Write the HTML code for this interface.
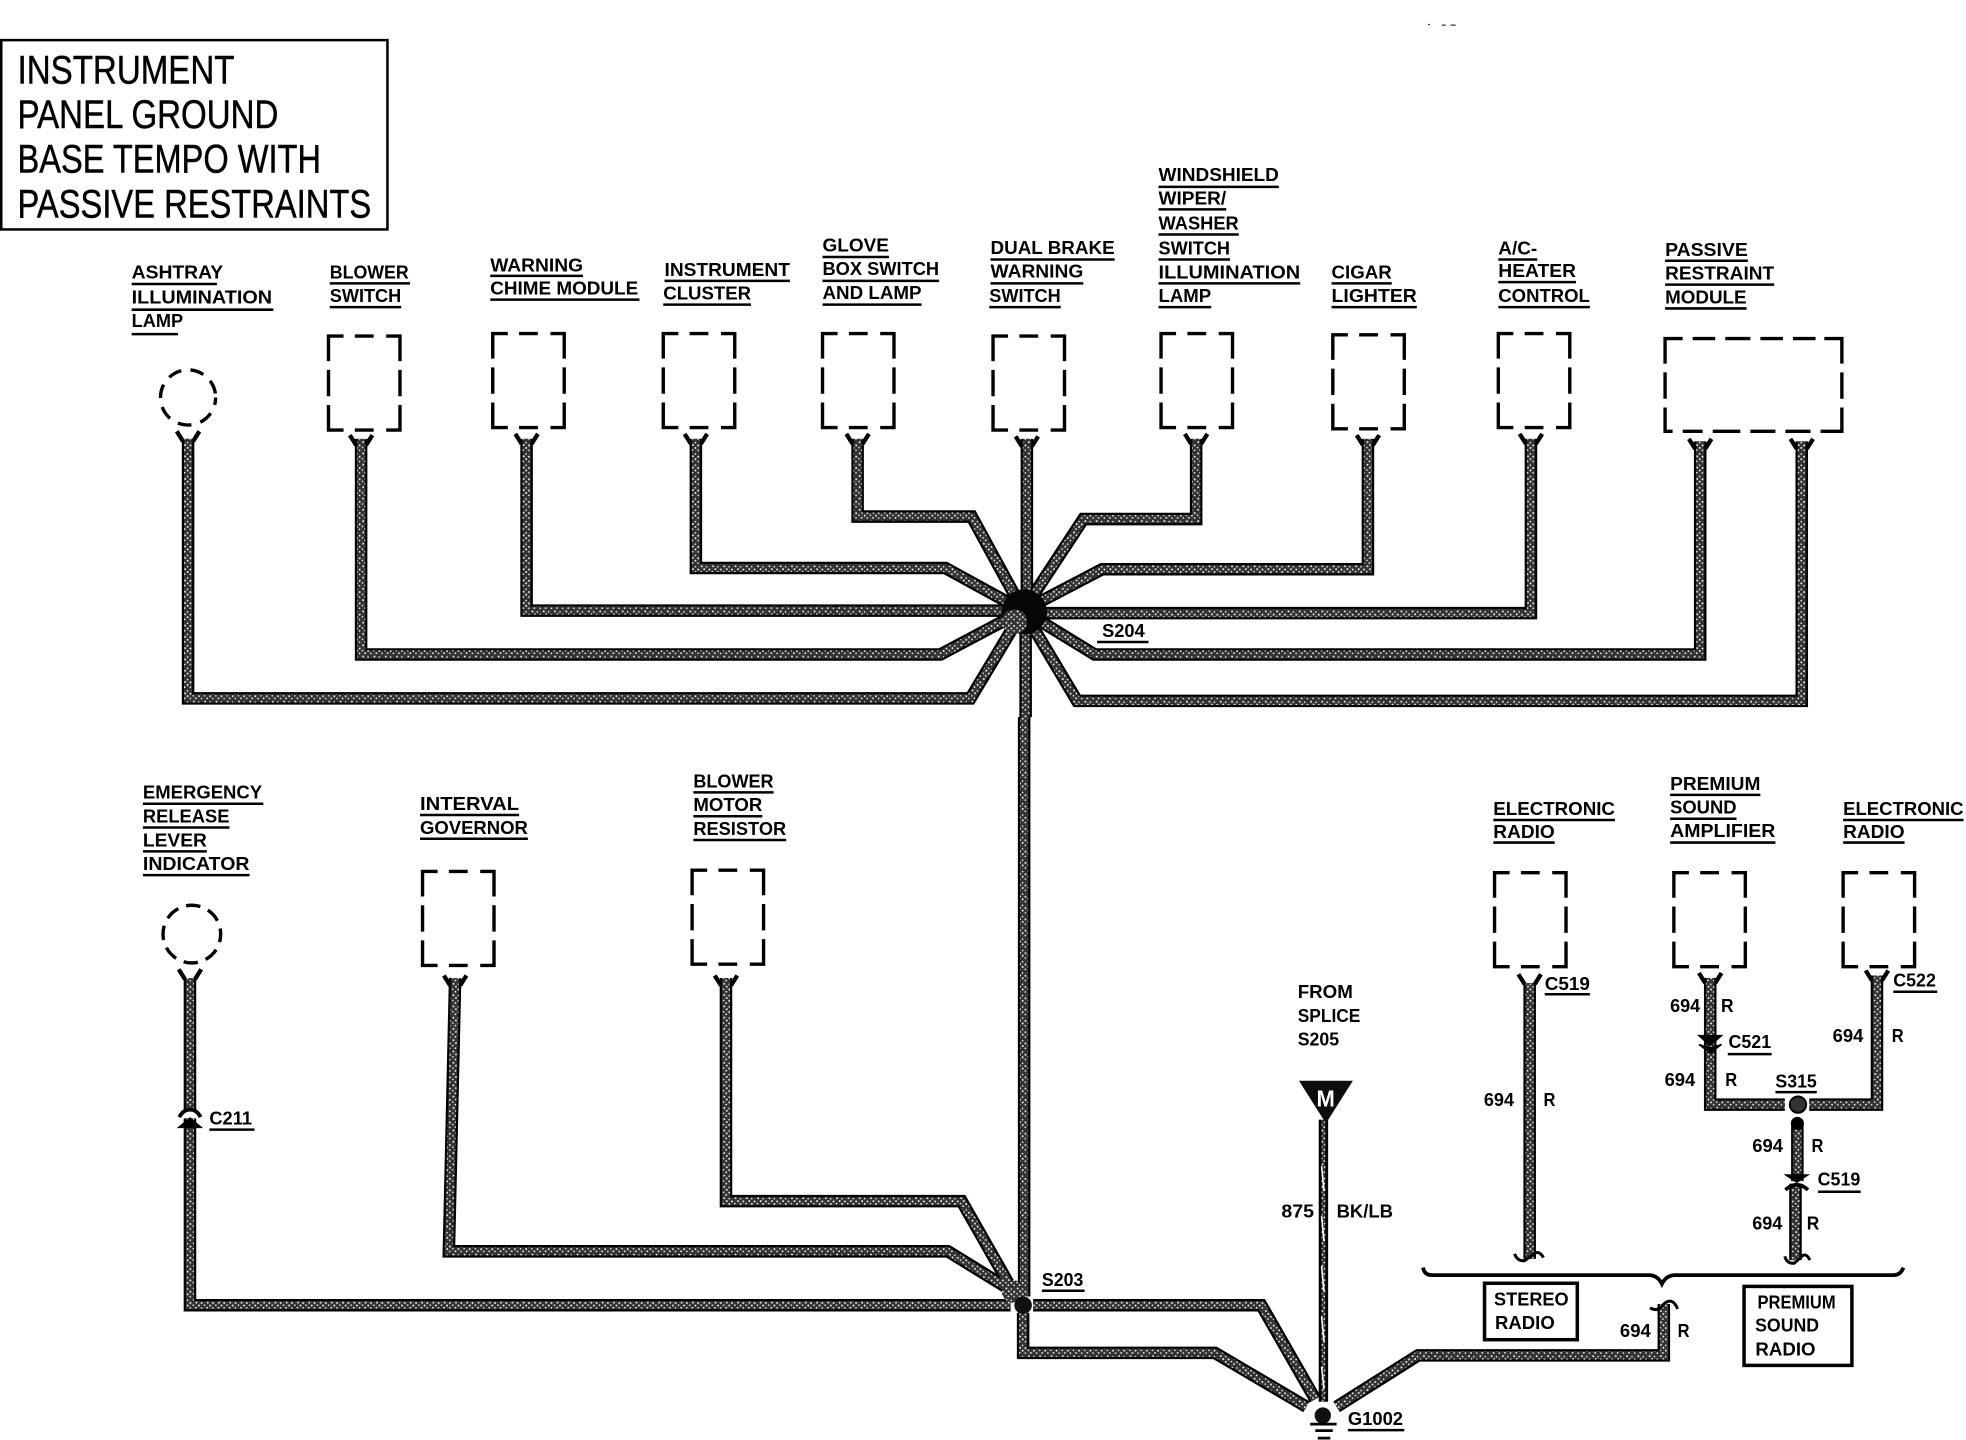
<!DOCTYPE html>
<html><head><meta charset="utf-8"><title>Instrument Panel Ground</title>
<style>
html,body{margin:0;padding:0;background:#fff}
svg{display:block;position:absolute;left:0;top:0}
text{font-family:"Liberation Sans",sans-serif;fill:#000}
.b{font-weight:700;font-size:14.5px}
.t{font-size:31.5px;stroke:#000;stroke-width:.35px}
</style></head><body>
<svg width="1966" height="1440" viewBox="0 0 1568 1148.5" preserveAspectRatio="none" xmlns="http://www.w3.org/2000/svg">
<defs>
<pattern id="sp" width="9" height="9" patternUnits="userSpaceOnUse">
<rect width="9" height="9" fill="#333"/>
<rect x="1" y="1" width="1.3" height="1.3" fill="#fff"/><rect x="5" y="1.5" width="1.1" height="1.1" fill="#fff"/>
<rect x="3" y="3.3" width="1.3" height="1.3" fill="#fff"/><rect x="7.2" y="3.6" width="1.3" height="1.3" fill="#fff"/>
<rect x=".6" y="5.4" width="1.1" height="1.1" fill="#fff"/><rect x="5" y="5.6" width="1.3" height="1.3" fill="#fff"/>
<rect x="2.6" y="7.4" width="1.2" height="1.2" fill="#fff"/><rect x="7.2" y="7.6" width="1.1" height="1.1" fill="#fff"/>
</pattern>
<path id="box" fill="none" stroke="#000" stroke-width="2.7" d="M0 20V0H12M21 0H36M46 0H57V20M57 27V48M57 55V75H46M36 75H21M12 75H0V55M0 48V27"/>
<path id="y" fill="none" stroke="#000" stroke-width="3.4" d="M-9-5L-4 3M9-5L4 3"/>
<path id="wires" fill="none" stroke-linejoin="miter" d="
M150 350V557H774L816 487
M288 350V522H750L816 487
M420 350V487H816
M555 350V453H754L816 487
M684 350V412H775L816 487
M819 350V487
M954 350V414H864L816 487
M1091 350V454H879L816 487
M1221 350V489H816
M1356 352V522H873L816 487
M1437 352V559H859L816 487
M818 487V572M816.8 572V1034
M151.5 780V886M151.5 892V1041H806
M363 780L358 998H756L808 1030
M579 780V958H767L808 1030
M816 1047V1079H969L1042 1122
M824 1041H1006L1049 1116
M1066 1122L1131 1081H1327V1040
M1220 784V1004
M1364 780V881H1423.5
M1443 881H1497V778
M1433.5 895V942M1432 944V1005"/>
</defs>
<rect width="1568" height="1148.5" fill="#fff"/>

<!-- title -->
<rect x="1" y="32" width="308" height="151" fill="none" stroke="#000" stroke-width="2"/>
<text class="t" x="14" y="66.5" textLength="173" lengthAdjust="spacingAndGlyphs">INSTRUMENT</text>
<text class="t" x="14" y="102" textLength="208" lengthAdjust="spacingAndGlyphs">PANEL GROUND</text>
<text class="t" x="14" y="137.7" textLength="242" lengthAdjust="spacingAndGlyphs">BASE TEMPO WITH</text>
<text class="t" x="14" y="173.3" textLength="282" lengthAdjust="spacingAndGlyphs">PASSIVE RESTRAINTS</text>

<!-- wires -->
<use href="#wires" stroke="#000" stroke-width="10"/>
<use href="#wires" stroke="url(#sp)" stroke-width="6.5"/>
<circle cx="817" cy="488" r="18" fill="#060606"/>
<circle cx="809" cy="496" r="10" fill="url(#sp)"/>
<circle cx="808" cy="1030" r="9" fill="url(#sp)"/>

<!-- 875 wire -->
<path d="M1055.5 893V1118" stroke="#000" stroke-width="7.5"/>
<path d="M1055.5 893V1118" stroke="url(#sp)" stroke-width="3"/>
<path d="M1054 1010L1056 1030M1054 1050L1056 1070M1054 1090L1056 1108M1054 930L1056 950M1054 970L1056 990" stroke="#fff" stroke-width="1.2"/>

<!-- dashed components -->
<circle cx="150" cy="317" r="22" fill="none" stroke="#000" stroke-width="2.7" stroke-dasharray="11 7.4" stroke-dashoffset="5"/>
<circle cx="153" cy="745" r="23" fill="none" stroke="#000" stroke-width="2.7" stroke-dasharray="11.5 6.6" stroke-dashoffset="5"/>
<use href="#box" x="262" y="268"/>
<use href="#box" x="393" y="266"/>
<use href="#box" x="529" y="266"/>
<use href="#box" x="656" y="266"/>
<use href="#box" x="792" y="268"/>
<use href="#box" x="926" y="266"/>
<use href="#box" x="1063" y="267"/>
<use href="#box" x="1195" y="266"/>
<use href="#box" x="337" y="695"/>
<use href="#box" x="552" y="694"/>
<use href="#box" x="1192" y="696"/>
<use href="#box" x="1335" y="696"/>
<use href="#box" x="1470" y="696"/>
<path fill="none" stroke="#000" stroke-width="2.7" d="M1328 290V270H1342M1350 270H1368M1376 270H1396M1404 270H1422M1430 270H1448M1455 270H1469V290M1469 297V318M1469 325V344H1452M1444 344H1424M1416 344H1396M1388 344H1366M1358 344H1342M1334 344H1328V325M1328 318V297"/>

<!-- connectors at tops -->
<use href="#y" x="150" y="349"/><use href="#y" x="288" y="352"/><use href="#y" x="420" y="351"/>
<use href="#y" x="555" y="351"/><use href="#y" x="684" y="351"/><use href="#y" x="819" y="353"/>
<use href="#y" x="954" y="351"/><use href="#y" x="1091" y="352"/><use href="#y" x="1221" y="351"/>
<use href="#y" x="1356" y="355"/><use href="#y" x="1437" y="355"/>
<use href="#y" x="151.5" y="778"/><use href="#y" x="363" y="783"/><use href="#y" x="579" y="783"/>
<use href="#y" x="1220" y="782"/><use href="#y" x="1364" y="781"/><use href="#y" x="1497" y="779"/>

<!-- inline connectors -->
<path d="M143 891Q146 885 151.5 885Q157 885 160 891" fill="none" stroke="#000" stroke-width="3"/>
<path d="M143 899L151.5 892L160 899Z" fill="#000" stroke="#000" stroke-width="1.5"/>
<path d="M1355 826H1373L1364 834Z M1355 833L1364 840L1373 833L1364 836Z" fill="#000" stroke="#000" stroke-width="1.2"/>
<path d="M1424 937H1442L1433 943Z" fill="#000" stroke="#000" stroke-width="1"/>
<path d="M1424 949Q1433 941 1442 949" fill="none" stroke="#000" stroke-width="3"/>
<path d="M1423.5 1002Q1425 1008 1431 1007.5L1436 1003Q1440 998 1443.5 1005" fill="none" stroke="#000" stroke-width="2.4"/>
<path d="M1208 1000Q1210 1006 1216 1005.5L1222 1001Q1227 996 1231 1003" fill="none" stroke="#000" stroke-width="2.4"/>
<path d="M1316 1043Q1322 1047 1327 1040Q1334 1034 1338 1044" fill="none" stroke="#000" stroke-width="2.4"/>

<!-- brace -->
<path d="M1135 1011Q1136 1017 1142 1017H1315Q1322 1017 1325.5 1024Q1329 1017 1336 1017H1510Q1516 1017 1518 1011" fill="none" stroke="#000" stroke-width="3"/>

<!-- nodes -->
<circle cx="816" cy="1041" r="7" fill="#111"/>
<circle cx="1434" cy="881" r="6.5" fill="#333" stroke="#000" stroke-width="1.6"/>
<circle cx="1433.5" cy="896" r="5.2" fill="#000"/>
<circle cx="1055" cy="1129" r="6.5" fill="#111"/>
<path d="M1045 1135.8H1066M1049 1141H1063M1051 1147H1061" stroke="#000" stroke-width="2.2"/>

<!-- triangle M -->
<path d="M1036 862H1079L1057.5 896Z" fill="#0c0c0c"/>
<text x="1050" y="882.7" style="font-weight:700;font-size:18.5px;fill:#fff" textLength="14.6" lengthAdjust="spacingAndGlyphs">M</text>

<!-- boxes -->
<rect x="1184" y="1023.5" width="74" height="45" fill="none" stroke="#000" stroke-width="2.8"/>
<rect x="1391" y="1026" width="86" height="63" fill="none" stroke="#000" stroke-width="2.8"/>

<!-- underlines -->
<path fill="none" stroke="#000" stroke-width="2" d="
M105 226.5H173M105 247H218M105 266.5H142M263 226H327M263 245H320
M391 220H465M391 239H510M530 224H630M529 243H599
M656 205H709M656 224H749M656 243H735
M790 207H889M790 226H864M789 245H846
M924 149H1020M924 167H978M924 187H988M924 207H981M924 226H1037M924 245H966
M1062 226H1110M1062 245H1130
M1195 207H1226M1195 225H1257M1195 245H1268
M1328 208H1394M1328 227H1415M1328 246H1393
M114 641H210M114 660H183M114 679H165M114 698H199
M335 650H414M335 669H421
M553 632H617M553 651H608M553 670H627
M1191 654H1288M1191 672H1240
M1332 634H1404M1332 653H1385M1332 672H1416
M1470 654H1566M1470 672H1519
M875 512H916M831 1029.5H865M1075 1140.6H1120
M167 901H203M1232 793H1268M1378 840.7H1413M1416 871H1449M1510 791H1545M1450 950.5H1484"/>

<!-- labels -->
<g>
<text class="b" x="105" y="222" textLength="73" lengthAdjust="spacingAndGlyphs">ASHTRAY</text>
<text class="b" x="105" y="242" textLength="112" lengthAdjust="spacingAndGlyphs">ILLUMINATION</text>
<text class="b" x="105" y="261" textLength="41" lengthAdjust="spacingAndGlyphs">LAMP</text>
<text class="b" x="263" y="222" textLength="63" lengthAdjust="spacingAndGlyphs">BLOWER</text>
<text class="b" x="263" y="241" textLength="57" lengthAdjust="spacingAndGlyphs">SWITCH</text>
<text class="b" x="391" y="216.5" textLength="74" lengthAdjust="spacingAndGlyphs">WARNING</text>
<text class="b" x="391" y="235" textLength="118" lengthAdjust="spacingAndGlyphs">CHIME MODULE</text>
<text class="b" x="530" y="220" textLength="100" lengthAdjust="spacingAndGlyphs">INSTRUMENT</text>
<text class="b" x="529" y="239" textLength="70" lengthAdjust="spacingAndGlyphs">CLUSTER</text>
<text class="b" x="656" y="200.5" textLength="53" lengthAdjust="spacingAndGlyphs">GLOVE</text>
<text class="b" x="656" y="219.5" textLength="93" lengthAdjust="spacingAndGlyphs">BOX SWITCH</text>
<text class="b" x="656" y="238.5" textLength="79" lengthAdjust="spacingAndGlyphs">AND LAMP</text>
<text class="b" x="790" y="202.5" textLength="99" lengthAdjust="spacingAndGlyphs">DUAL BRAKE</text>
<text class="b" x="790" y="221.5" textLength="74" lengthAdjust="spacingAndGlyphs">WARNING</text>
<text class="b" x="789" y="241" textLength="57" lengthAdjust="spacingAndGlyphs">SWITCH</text>
<text class="b" x="924" y="144.5" textLength="96" lengthAdjust="spacingAndGlyphs">WINDSHIELD</text>
<text class="b" x="924" y="163" textLength="54" lengthAdjust="spacingAndGlyphs">WIPER/</text>
<text class="b" x="924" y="183" textLength="64" lengthAdjust="spacingAndGlyphs">WASHER</text>
<text class="b" x="924" y="203" textLength="57" lengthAdjust="spacingAndGlyphs">SWITCH</text>
<text class="b" x="924" y="222" textLength="113" lengthAdjust="spacingAndGlyphs">ILLUMINATION</text>
<text class="b" x="924" y="241" textLength="42" lengthAdjust="spacingAndGlyphs">LAMP</text>
<text class="b" x="1062" y="222" textLength="48" lengthAdjust="spacingAndGlyphs">CIGAR</text>
<text class="b" x="1062" y="241" textLength="68" lengthAdjust="spacingAndGlyphs">LIGHTER</text>
<text class="b" x="1195" y="203" textLength="31" lengthAdjust="spacingAndGlyphs">A/C-</text>
<text class="b" x="1195" y="221" textLength="62" lengthAdjust="spacingAndGlyphs">HEATER</text>
<text class="b" x="1195" y="241" textLength="73" lengthAdjust="spacingAndGlyphs">CONTROL</text>
<text class="b" x="1328" y="204" textLength="66" lengthAdjust="spacingAndGlyphs">PASSIVE</text>
<text class="b" x="1328" y="223" textLength="87" lengthAdjust="spacingAndGlyphs">RESTRAINT</text>
<text class="b" x="1328" y="242" textLength="65" lengthAdjust="spacingAndGlyphs">MODULE</text>

<text class="b" x="114" y="637" textLength="95" lengthAdjust="spacingAndGlyphs">EMERGENCY</text>
<text class="b" x="114" y="656" textLength="69" lengthAdjust="spacingAndGlyphs">RELEASE</text>
<text class="b" x="114" y="675" textLength="51" lengthAdjust="spacingAndGlyphs">LEVER</text>
<text class="b" x="114" y="694" textLength="85" lengthAdjust="spacingAndGlyphs">INDICATOR</text>
<text class="b" x="335" y="646" textLength="79" lengthAdjust="spacingAndGlyphs">INTERVAL</text>
<text class="b" x="335" y="665" textLength="86" lengthAdjust="spacingAndGlyphs">GOVERNOR</text>
<text class="b" x="553" y="628" textLength="64" lengthAdjust="spacingAndGlyphs">BLOWER</text>
<text class="b" x="553" y="647" textLength="55" lengthAdjust="spacingAndGlyphs">MOTOR</text>
<text class="b" x="553" y="666" textLength="74" lengthAdjust="spacingAndGlyphs">RESISTOR</text>
<text class="b" x="1191" y="650" textLength="97" lengthAdjust="spacingAndGlyphs">ELECTRONIC</text>
<text class="b" x="1191" y="668.5" textLength="49" lengthAdjust="spacingAndGlyphs">RADIO</text>
<text class="b" x="1332" y="630" textLength="72" lengthAdjust="spacingAndGlyphs">PREMIUM</text>
<text class="b" x="1332" y="649" textLength="53" lengthAdjust="spacingAndGlyphs">SOUND</text>
<text class="b" x="1332" y="667.5" textLength="84" lengthAdjust="spacingAndGlyphs">AMPLIFIER</text>
<text class="b" x="1470" y="650" textLength="96" lengthAdjust="spacingAndGlyphs">ELECTRONIC</text>
<text class="b" x="1470" y="668.5" textLength="49" lengthAdjust="spacingAndGlyphs">RADIO</text>
<text class="b" x="1035" y="796" textLength="44" lengthAdjust="spacingAndGlyphs">FROM</text>
<text class="b" x="1035" y="815" textLength="50" lengthAdjust="spacingAndGlyphs">SPLICE</text>
<text class="b" x="1035" y="834" textLength="33" lengthAdjust="spacingAndGlyphs">S205</text>
<text class="b" x="1022" y="971" textLength="26" lengthAdjust="spacingAndGlyphs">875</text>
<text class="b" x="1066" y="971" textLength="45" lengthAdjust="spacingAndGlyphs">BK/LB</text>

<text class="b" x="879" y="508" textLength="34" lengthAdjust="spacingAndGlyphs">S204</text>
<text class="b" x="831" y="1025.7" textLength="33" lengthAdjust="spacingAndGlyphs">S203</text>
<text class="b" x="1075" y="1136.6" textLength="44" lengthAdjust="spacingAndGlyphs">G1002</text>
<text class="b" x="167" y="897" textLength="34" lengthAdjust="spacingAndGlyphs">C211</text>
<text class="b" x="1232" y="789.6" textLength="36" lengthAdjust="spacingAndGlyphs">C519</text>
<text class="b" x="1183.5" y="882" textLength="24" lengthAdjust="spacingAndGlyphs">694</text>
<text class="b" x="1231" y="882" textLength="9.5" lengthAdjust="spacingAndGlyphs">R</text>
<text class="b" x="1332" y="807" textLength="24" lengthAdjust="spacingAndGlyphs">694</text>
<text class="b" x="1372.6" y="807" textLength="10" lengthAdjust="spacingAndGlyphs">R</text>
<text class="b" x="1378.6" y="836" textLength="34" lengthAdjust="spacingAndGlyphs">C521</text>
<text class="b" x="1327.6" y="866" textLength="24.5" lengthAdjust="spacingAndGlyphs">694</text>
<text class="b" x="1376" y="866" textLength="9.5" lengthAdjust="spacingAndGlyphs">R</text>
<text class="b" x="1416" y="867.5" textLength="33" lengthAdjust="spacingAndGlyphs">S315</text>
<text class="b" x="1510" y="787" textLength="34" lengthAdjust="spacingAndGlyphs">C522</text>
<text class="b" x="1461.6" y="831" textLength="24.5" lengthAdjust="spacingAndGlyphs">694</text>
<text class="b" x="1508.8" y="831" textLength="9.5" lengthAdjust="spacingAndGlyphs">R</text>
<text class="b" x="1397.5" y="919" textLength="24.5" lengthAdjust="spacingAndGlyphs">694</text>
<text class="b" x="1444.8" y="919" textLength="9.5" lengthAdjust="spacingAndGlyphs">R</text>
<text class="b" x="1449.7" y="945.7" textLength="34" lengthAdjust="spacingAndGlyphs">C519</text>
<text class="b" x="1397.5" y="980.5" textLength="24" lengthAdjust="spacingAndGlyphs">694</text>
<text class="b" x="1441" y="980.5" textLength="10" lengthAdjust="spacingAndGlyphs">R</text>
<text class="b" x="1191.6" y="1041.4" textLength="59.5" lengthAdjust="spacingAndGlyphs">STEREO</text>
<text class="b" x="1192.4" y="1060" textLength="47.6" lengthAdjust="spacingAndGlyphs">RADIO</text>
<text class="b" x="1401.7" y="1043.5" textLength="62.3" lengthAdjust="spacingAndGlyphs">PREMIUM</text>
<text class="b" x="1399.8" y="1062" textLength="51" lengthAdjust="spacingAndGlyphs">SOUND</text>
<text class="b" x="1400" y="1081.3" textLength="48" lengthAdjust="spacingAndGlyphs">RADIO</text>
<text class="b" x="1292" y="1066.4" textLength="24.6" lengthAdjust="spacingAndGlyphs">694</text>
<text class="b" x="1338" y="1066.4" textLength="9.5" lengthAdjust="spacingAndGlyphs">R</text>
</g>
<path d="M1139 19.5h1.5M1150 20h3M1157 20h4" stroke="#333" stroke-width="1"/>
</svg>
</body></html>
